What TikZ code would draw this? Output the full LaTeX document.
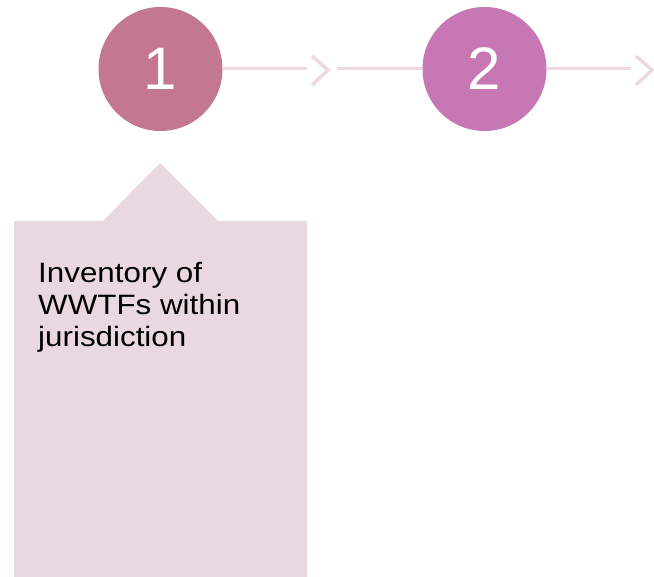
\documentclass[tikz,border=0pt]{standalone}
\usepackage{fontspec}
\setmainfont{Liberation Sans}
\newfontfamily\boxfont[FakeStretch=1.12]{Liberation Sans}
\definecolor{cOne}{HTML}{C4788F}
\definecolor{cTwo}{HTML}{C677B4}
\definecolor{lineC}{HTML}{EDD8E2}
\definecolor{boxC}{HTML}{E9D8E0}
\begin{document}
\begin{tikzpicture}[x=1pt,y=-1pt,
  stepcircle/.style={circle,minimum size=124pt,inner sep=0pt,text=white,font=\fontsize{60}{60}\selectfont},
  conn/.style={draw=lineC,line width=3pt},
  chev/.style={draw=lineC,line width=3.5pt,line cap=butt,line join=miter}]
\useasboundingbox (0,0) rectangle (654,577);
\fill[boxC] (14,221) -- (103,221) -- (160,163) -- (218,221) -- (307,221) -- (307,577) -- (14,577) -- cycle;
\node[stepcircle,fill=cOne] (s1) at (160.5,69) {1};
\node[stepcircle,fill=cTwo] (s2) at (484.5,69) {2};
\coordinate (a1) at (307,69);
\coordinate (b1) at (337,69);
\coordinate (a2) at (631,69);
\draw[conn] (s1.east) -- (a1);
\draw[conn] (b1) -- (s2.west);
\draw[conn] (s2.east) -- (a2);
\draw[chev] (312,56) -- (328,70) -- (312,85);
\draw[chev] (636,56) -- (652,70) -- (636,85);
\node[anchor=base west,align=left,inner sep=0pt,font=\boxfont\fontsize{28}{32}\selectfont] (t) at (38,347) {Inventory of\\WWTFs within\\jurisdiction};
\end{tikzpicture}
\end{document}
